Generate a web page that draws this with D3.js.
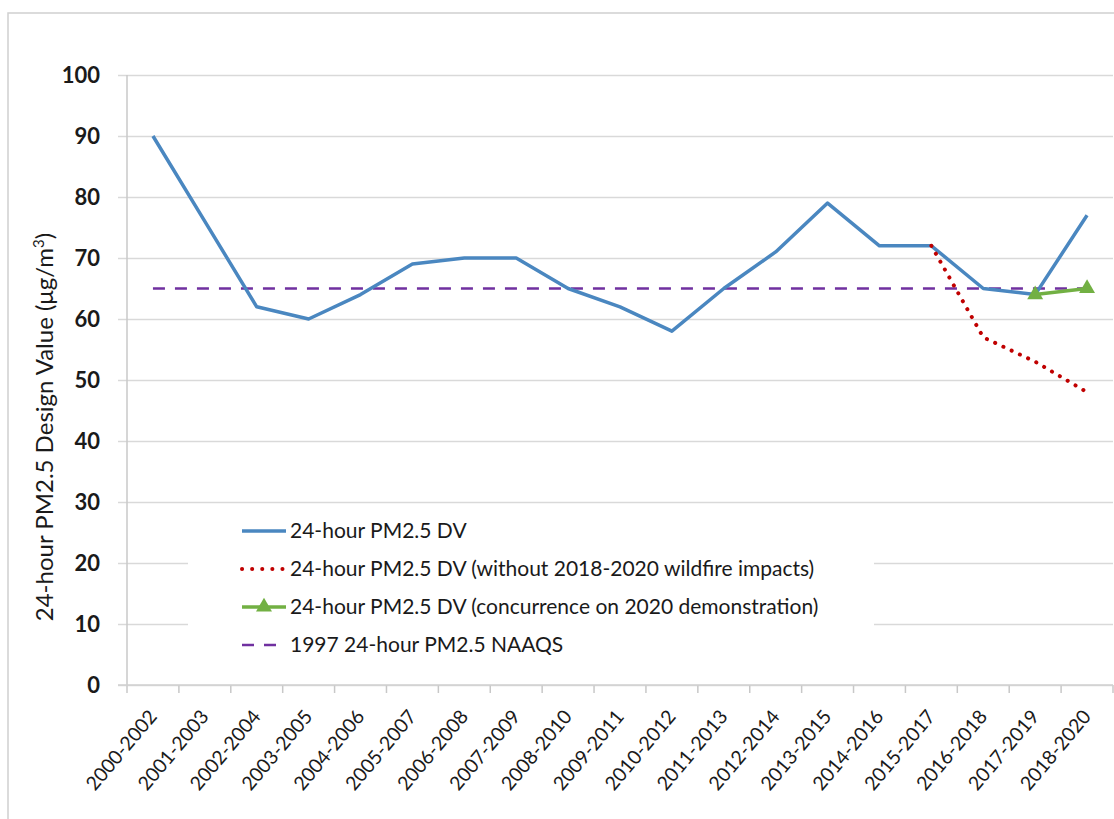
<!DOCTYPE html>
<html>
<head>
<meta charset="utf-8">
<script src="https://cdn.jsdelivr.net/npm/d3@7/dist/d3.min.js"></script>
<style>
  body { margin: 0; background: #fff; }
  svg { display: block; }
  text { font-family: Lato, "Liberation Sans", sans-serif; fill: #1a1a1a; }
</style>
</head>
<body>
<svg id="chart" width="1114" height="819"></svg>
<script>
const categories = ["2000-2002","2001-2003","2002-2004","2003-2005","2004-2006","2005-2007","2006-2008","2007-2009","2008-2010","2009-2011","2010-2012","2011-2013","2012-2014","2013-2015","2014-2016","2015-2017","2016-2018","2017-2019","2018-2020"];
const dvValues = [90,76,62,60,64,69,70,70,65,62,58,65,71,79,72,72,65,64,77];
const noWildfireCats = ["2015-2017","2016-2018","2017-2019","2018-2020"];
const noWildfireValues = [72,57,53,48];
const concurrenceCats = ["2017-2019","2018-2020"];
const concurrenceValues = [64,65];
const naaqsValue = 65;
const yTicks = [0,10,20,30,40,50,60,70,80,90,100];
const legendLabels = [
  "24-hour PM2.5 DV",
  "24-hour PM2.5 DV (without 2018-2020 wildfire impacts)",
  "24-hour PM2.5 DV (concurrence on 2020 demonstration)",
  "1997 24-hour PM2.5 NAAQS"
];

const svg = d3.select("#chart");
const pLeft = 127, pRight = 1113, pTop = 75, pBottom = 685;

const x = d3.scaleBand().domain(categories).range([pLeft, pRight]).padding(0);
const y = d3.scaleLinear().domain([0, 100]).range([pBottom, pTop]);
const xc = d => x(d) + x.bandwidth() / 2;

// outer chart border
svg.append("rect").attr("x", 8).attr("y", 13).attr("width", 1200).attr("height", 900)
  .attr("fill", "none").attr("stroke", "#d0d0d0").attr("stroke-width", 1.5);

// gridlines + y tick labels
const yAxis = d3.axisLeft(y).tickValues(yTicks).tickSize(-(pRight - pLeft + 9)).tickPadding(17);
const gy = svg.append("g").attr("transform", `translate(${pLeft - 9},0)`).call(yAxis);
gy.select(".domain").remove();
gy.selectAll(".tick line").attr("stroke", "#d9d9d9").attr("stroke-width", 1.5);
gy.selectAll(".tick text").attr("font-size", 22).attr("font-weight", "bold")
  .attr("font-family", "Lato, 'Liberation Sans', sans-serif").attr("fill", "#111").attr("x", -18);

// y axis line
svg.append("line").attr("x1", pLeft).attr("x2", pLeft).attr("y1", pTop).attr("y2", pBottom)
  .attr("stroke", "#c8c8c8").attr("stroke-width", 1.5);

// x axis ticks at band boundaries
const boundaries = categories.map(c => x(c)).concat([pRight]);
svg.append("g").selectAll("line").data(boundaries).join("line")
  .attr("x1", d => d).attr("x2", d => d).attr("y1", pBottom).attr("y2", pBottom + 8)
  .attr("stroke", "#c8c8c8").attr("stroke-width", 1.5);
svg.append("line").attr("x1", pLeft - 9).attr("x2", pRight).attr("y1", pBottom).attr("y2", pBottom)
  .attr("stroke", "#d0d0d0").attr("stroke-width", 1.5);

// x labels
svg.append("g").selectAll("text").data(categories).join("text")
  .attr("transform", d => `translate(${xc(d) + 5},${pBottom + 32}) rotate(-50)`)
  .attr("text-anchor", "end")
  .attr("font-size", 19.5).text(d => d);

// y title
svg.append("text").attr("transform", `translate(53,427) rotate(-90)`)
  .attr("text-anchor", "middle").attr("font-size", 24)
  .html('24-hour PM2.5 Design Value (μg/m<tspan baseline-shift="super" font-size="15">3</tspan>)');

// NAAQS line
const line = d3.line().x(d => xc(d[0])).y(d => y(d[1]));
svg.append("path").datum(categories.map(c => [c, naaqsValue]))
  .attr("d", line).attr("fill", "none").attr("stroke", "#7030a0")
  .attr("stroke-width", 2.5).attr("stroke-dasharray", "12,10");

// main DV line
svg.append("path").datum(categories.map((c, i) => [c, dvValues[i]]))
  .attr("d", line).attr("fill", "none").attr("stroke", "#4a87c0")
  .attr("stroke-width", 3.5).attr("stroke-linejoin", "round");

// no wildfire dotted
svg.append("path").datum(noWildfireCats.map((c, i) => [c, noWildfireValues[i]]))
  .attr("d", line).attr("fill", "none").attr("stroke", "#c00000")
  .attr("stroke-width", 4).attr("stroke-linecap", "round").attr("stroke-dasharray", "0.1,9");

// concurrence green with triangles
const green = "#72b043";
svg.append("path").datum(concurrenceCats.map((c, i) => [c, concurrenceValues[i]]))
  .attr("d", line).attr("fill", "none").attr("stroke", green).attr("stroke-width", 3.5);
const tri = d3.symbol().type(d3.symbolTriangle).size(110);
svg.append("g").selectAll("path").data(concurrenceCats.map((c, i) => [c, concurrenceValues[i]])).join("path")
  .attr("d", tri).attr("transform", d => `translate(${xc(d[0])},${y(d[1])})`).attr("fill", green);

// legend
const lg = svg.append("g");
lg.append("rect").attr("x", 188).attr("y", 508).attr("width", 686).attr("height", 152).attr("fill", "#fff");
const rowY = [531, 569, 607, 645];
legendLabels.forEach((lab, i) => {
  const g = lg.append("g").attr("transform", `translate(0,${rowY[i]})`);
  if (i === 0) {
    g.append("line").attr("x1", 242).attr("x2", 286).attr("stroke", "#4a87c0").attr("stroke-width", 3.5);
  } else if (i === 1) {
    g.append("line").attr("x1", 242).attr("x2", 284).attr("stroke", "#c00000").attr("stroke-width", 4)
      .attr("stroke-linecap", "round").attr("stroke-dasharray", "0.1,10");
  } else if (i === 2) {
    g.append("line").attr("x1", 242).attr("x2", 286).attr("stroke", green).attr("stroke-width", 3.5);
    g.append("path").attr("d", tri).attr("transform", "translate(264,0)").attr("fill", green);
  } else {
    g.append("line").attr("x1", 242).attr("x2", 286).attr("stroke", "#7030a0").attr("stroke-width", 2.5)
      .attr("stroke-dasharray", "12,10");
  }
  g.append("text").attr("x", 290).attr("dy", "0.35em").attr("font-size", 21).text(lab);
});
</script>
</body>
</html>
